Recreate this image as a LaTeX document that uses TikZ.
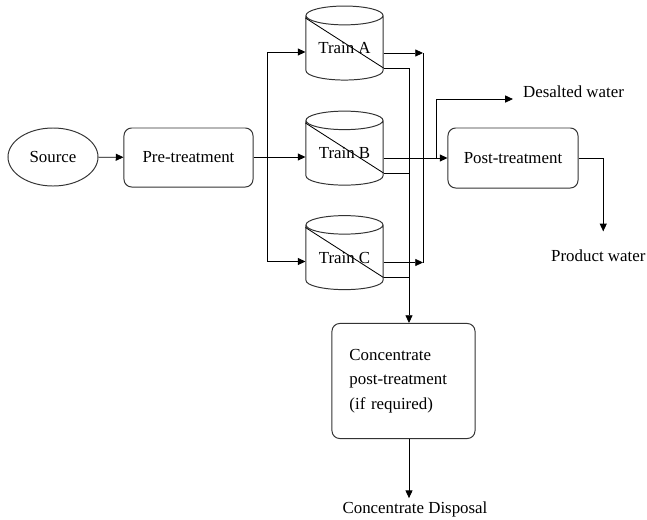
\documentclass[tikz,border=0pt]{standalone}
\usepackage{fontspec}
\setmainfont{Liberation Serif}
\usetikzlibrary{shapes.geometric, arrows.meta, positioning, calc}

\begin{document}
\begin{tikzpicture}[
    x=0.025cm, y=-0.025cm,
    font=\fontsize{12}{14}\selectfont,
    line width=0.6pt,
    base/.style={draw=black!80, line width=0.7pt, align=center, inner sep=2pt},
    block/.style={base, rectangle, rounded corners=5.5pt},
    tank/.style={base, cylinder, shape border rotate=90, aspect=0.36, inner sep=0pt, minimum width=1.925cm, minimum height=1.85cm},
    arrow/.style={-{Triangle[length=5.5pt, width=5pt]}},
    tag/.style={inner sep=2pt}
]
    \useasboundingbox (0,0) rectangle (647,520);

    % --- nodes ---
    \node [base, ellipse, minimum width=2.25cm, minimum height=1.45cm] (source) at (53,157) {Source};
    \node [block, minimum width=3.225cm, minimum height=1.475cm] (pre) at (188.5,157.5) {Pre-treatment};
    \node [tank] (trainA) at (344.5,48) {Train A};
    \node [tank] (trainB) at (344.5,153) {Train B};
    \node [tank] (trainC) at (344.5,257.5) {Train C};
    \node [block, minimum width=3.25cm, minimum height=1.5cm] (post) at (513,158) {Post-treatment};
    \node [block, minimum width=3.575cm, minimum height=2.875cm, text width=2.7cm, align=left,
           font=\fontsize{12}{17.5}\selectfont] (conc) at (403.5,381) {Concentrate\\post-treatment\\(if required)};
    \node [tag, anchor=west] (desalted) at (520,92) {Desalted water};
    \node [tag, anchor=west] (product) at (548,256) {Product water};
    \node [tag] (disposal) at (415,509) {Concentrate Disposal};

    % --- helper points ---
    \coordinate (bus) at (267,0);
    \coordinate (drain) at (409,0);
    \coordinate (hdr) at (423,0);
    \coordinate (tap) at (436,0);
    \foreach \t in {A,B,C} {
        \coordinate (in\t)  at ($(train\t.west)+(0,4)$);
        \coordinate (out\t) at ($(train\t.east)+(0,5)$);
        \coordinate (rej\t) at ($(train\t.east)+(0,20)$);
        \draw ($(train\t.west)+(0,-30)$) -- (rej\t);
    }

    % --- connectors ---
    \draw [arrow] (source) -- (pre);
    \draw [arrow] (pre.east |- inB) -- (inB);
    \draw [arrow] (bus |- inB) |- (inA);
    \draw [arrow] (bus |- inB) |- (inC);

    % permeate
    \draw [arrow] (outA) -- (outA -| hdr);
    \draw [arrow] (outC) -- (outC -| hdr);
    \draw (outA -| hdr) -- (outC -| hdr);
    \draw [arrow] (outB) -- (outB -| post.west);
    \draw [arrow] (outB -| tap) |- ([xshift=-5pt, yshift=-5pt]desalted.west);
    \draw [arrow] (post.east) -| ([xshift=3.5pt, yshift=11pt]product.north);

    % concentrate
    \draw [arrow] (rejA) -| (drain |- conc.north);
    \draw (rejB) -- (rejB -| drain);
    \draw (rejC) -- (rejC -| drain);
    \draw [arrow] (conc.south -| drain) -- (drain |- disposal.north);

\end{tikzpicture}
\end{document}
